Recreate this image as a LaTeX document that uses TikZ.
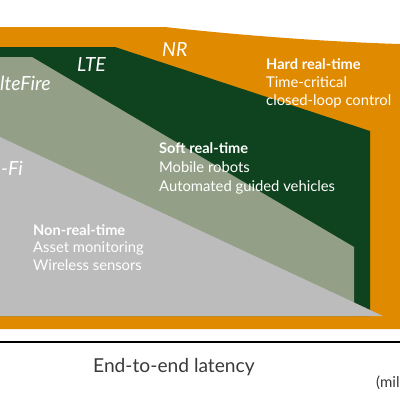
\documentclass[tikz,border=0pt]{standalone}
\usepackage{fontspec}
\setmainfont{Lato}
\definecolor{orng}{HTML}{E08A00}
\definecolor{dkgreen}{HTML}{0F421F}
\definecolor{ltgreen}{HTML}{939F86}
\definecolor{wgray}{HTML}{BBBCBB}
\definecolor{axistext}{HTML}{3A3A3A}
\begin{document}
\begin{tikzpicture}[x=1pt,y=-1pt,
  tech/.style={inner sep=0pt, anchor=base west, text=white, font=\fontsize{19.5}{22}\selectfont\itshape},
  head/.style={inner sep=0pt, anchor=base west, text=white, font=\fontsize{14.6}{17}\selectfont\bfseries},
  item/.style={inner sep=0pt, anchor=base west, text=white, font=\fontsize{14.8}{17}\selectfont},
  axislabel/.style={inner sep=0pt, anchor=base west, text=axistext, font=\fontsize{19.2}{22}\selectfont}]
\useasboundingbox (0,0) rectangle (400,400);
\fill[white] (0,0) rectangle (400,400);
% regions
\fill[orng] (0,27) -- (165,27) .. controls (200,31) and (300,41) .. (400,44) -- (400,329) -- (0,329) -- cycle;
\fill[dkgreen] (0,47) -- (115,47) -- (370,131) -- (370,316) -- (0,316) -- cycle;
\fill[ltgreen] (0,57) -- (32,57) -- (354,247) -- (354,316) -- (0,316) -- cycle;
\fill[wgray] (0,137) -- (383,316) -- (0,316) -- cycle;
% axis line
\draw[line width=2pt, black] (0,341.5) -- (400,341.5);
% technology labels
\node[tech] (nr) at (162,56) {NR};
\node[tech] (lte) at (77,71) {LTE};
\node[tech] (multefire) at (0,90) {lteFire};
\node[tech] (wifi) at (1,175) {-Fi};
% categories
\node[head] (hard) at (266,69) {Hard real-time};
\node[item] (hard1) at (266,87) {Time-critical};
\node[item] (hard2) at (266,105) {closed-loop control};
\node[head] (soft) at (159,153) {Soft real-time};
\node[item] (soft1) at (159,172) {Mobile robots};
\node[item] (soft2) at (159,191) {Automated guided vehicles};
\node[head] (non) at (33,235) {Non-real-time};
\node[item] (non1) at (33,252) {Asset monitoring};
\node[item] (non2) at (33,270) {Wireless sensors};
% axis labels
\node[axislabel] (xlabel) at (93,372) {End-to-end latency};
\node[axislabel, font=\fontsize{15}{18}\selectfont] (unit) at (376,387) {(mil};
\end{tikzpicture}
\end{document}
